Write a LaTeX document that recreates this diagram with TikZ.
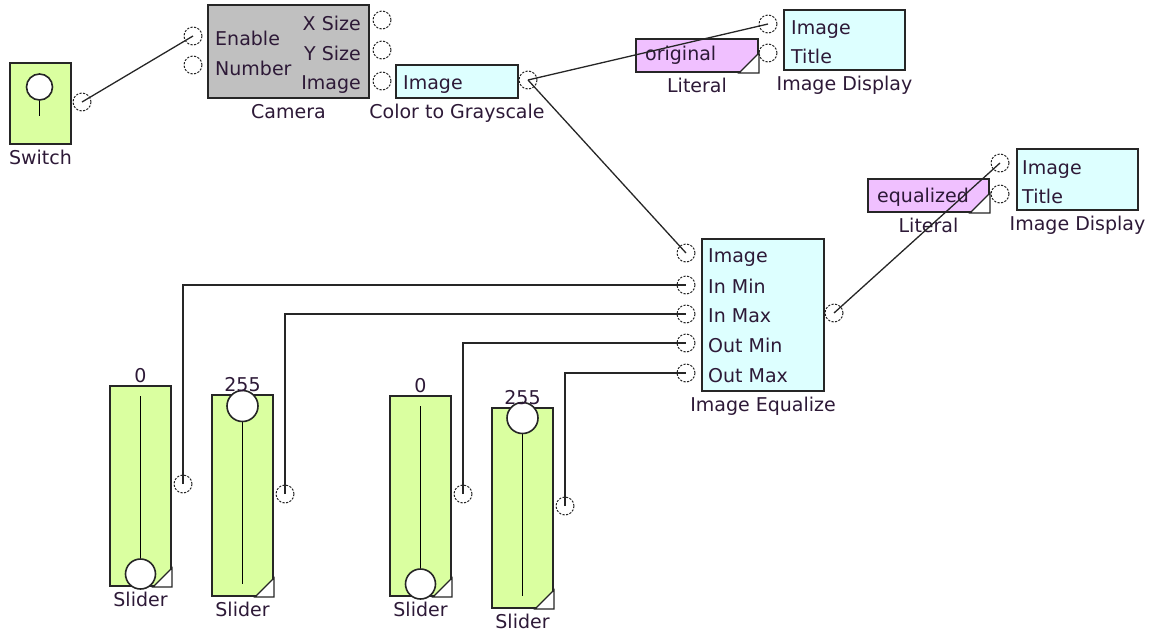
\documentclass[tikz,border=0pt]{standalone}
\usepackage{fontspec}
\setmainfont{DejaVu Sans}
\usetikzlibrary{positioning}
\definecolor{slidegreen}{RGB}{218,255,160}
\definecolor{dispcyan}{RGB}{221,255,255}
\definecolor{litpink}{RGB}{240,192,255}
\definecolor{camgray}{RGB}{192,192,192}
\definecolor{inktext}{RGB}{45,25,55}

\tikzset{
  blk/.style={draw=black!85, line width=2pt, anchor=north west, inner sep=0},
  port/.style={circle, draw=black!85, line width=1pt, dash pattern=on 2.2pt off 1.4pt, minimum size=18pt, inner sep=0},
  knob/.style={circle, draw=black!85, fill=white, line width=1.6pt, inner sep=0, minimum size=#1},
  wire/.style={black!85, line width=1.3pt},
  txt/.style={inner sep=0, text height=13.5pt, text depth=0pt, text=inktext},
  lbl/.style={txt, below=6pt of #1},
  val/.style={txt, above=2.5pt of #1},
  corner/.style={fill=white, draw=black!85, line width=1.3pt},
}

\begin{document}
\begin{tikzpicture}[x=1pt, y=-1pt, font=\fontsize{19}{22}\selectfont]
  \useasboundingbox (0,0) rectangle (1154,633);

  % switch
  \node[blk, fill=slidegreen, minimum width=61pt, minimum height=81pt] (sw) at (9,62) {};
  \node[knob=26pt] (swk) at (39.5,87) {};
  \draw[line width=1.6pt] (swk.south) -- ++(0,15);
  \node[lbl=sw] (swl) {Switch};
  \node[port] (swo) at (82,102) {};

  % camera
  \node[blk, fill=camgray, minimum width=161pt, minimum height=93pt] (cam) at (207,4) {};
  \node[txt, anchor=west] at (215,39) {Enable};
  \node[txt, anchor=west] at (215,69) {Number};
  \node[txt, anchor=east] at (361,23.5) {X Size};
  \node[txt, anchor=east] at (361,53.5) {Y Size};
  \node[txt, anchor=east] at (361,82.5) {Image};
  \node[lbl=cam] (caml) {Camera};
  \node[port] (camen) at (193,36) {};
  \node[port] (camnum) at (193,65) {};
  \node[port] (camx) at (382,20) {};
  \node[port] (camy) at (382,50) {};
  \node[port] (camimg) at (382,81) {};

  % color to grayscale
  \node[blk, fill=dispcyan, minimum width=122pt, minimum height=33pt] (gray) at (395,64) {};
  \node[txt, anchor=west] at (403,82.5) {Image};
  \node[lbl=gray] (grayl) {Color to Grayscale};
  \node[port] (grayo) at (528,80) {};

  % literal "original"
  \node[blk, fill=litpink, minimum width=122pt, minimum height=33pt] (lit1) at (635,38) {};
  \node[txt, anchor=west] at (645,54) {original};
  \filldraw[corner] (lit1.south east) -- ++(-20,0) -- ++(20,-20) -- cycle;
  \node[lbl=lit1] (lit1l) {Literal};

  % image display (top)
  \node[blk, fill=dispcyan, minimum width=121pt, minimum height=60pt] (disp1) at (783,9) {};
  \node[txt, anchor=west] at (791,28) {Image};
  \node[txt, anchor=west] at (791,57) {Title};
  \node[lbl=disp1] (disp1l) {Image Display};
  \node[port] (disp1img) at (768,24) {};
  \node[port] (disp1tit) at (768,53) {};

  % literal "equalized"
  \node[blk, fill=litpink, minimum width=121pt, minimum height=33pt] (lit2) at (867,178) {};
  \node[txt, anchor=west] at (877,196) {equalized};
  \filldraw[corner] (lit2.south east) -- ++(-20,0) -- ++(20,-20) -- cycle;
  \node[lbl=lit2] (lit2l) {Literal};

  % image display (right)
  \node[blk, fill=dispcyan, minimum width=121pt, minimum height=61pt] (disp2) at (1016,148) {};
  \node[txt, anchor=west] at (1022,168) {Image};
  \node[txt, anchor=west] at (1022,197) {Title};
  \node[lbl=disp2] (disp2l) {Image Display};
  \node[port] (disp2img) at (1000,163) {};
  \node[port] (disp2tit) at (1000,194) {};

  % image equalize
  \node[blk, fill=dispcyan, minimum width=122pt, minimum height=152pt] (eq) at (701,238) {};
  \node[txt, anchor=west] at (708,256) {Image};
  \node[txt, anchor=west] at (708,287) {In Min};
  \node[txt, anchor=west] at (708,316) {In Max};
  \node[txt, anchor=west] at (708,346) {Out Min};
  \node[txt, anchor=west] at (708,376) {Out Max};
  \node[lbl=eq] (eql) {Image Equalize};
  \node[port] (eqimg) at (686,253) {};
  \node[port] (eqinmin) at (686,285) {};
  \node[port] (eqinmax) at (686,314) {};
  \node[port] (eqoutmin) at (686,343) {};
  \node[port] (eqoutmax) at (686,373) {};
  \node[port] (eqo) at (834,313) {};

  % sliders
  \node[blk, fill=slidegreen, minimum width=61pt, minimum height=200pt] (s1) at (109,385) {};
  \node[blk, fill=slidegreen, minimum width=61pt, minimum height=201pt] (s2) at (211,394) {};
  \node[blk, fill=slidegreen, minimum width=61pt, minimum height=200pt] (s3) at (389,395) {};
  \node[blk, fill=slidegreen, minimum width=61pt, minimum height=200pt] (s4) at (491,407) {};
  \foreach \s in {s1,s2,s3,s4} {
    \filldraw[corner] (\s.south east) -- ++(-19,0) -- ++(19,-19) -- cycle;
    \draw[line width=1.6pt] ([yshift=-11pt]\s.north) -- ([yshift=13pt]\s.south);
    \node[lbl=\s] {Slider};
  }
  \node[knob=30pt] (s1k) at ([yshift=13pt]s1.south) {};
  \node[knob=31pt] (s2k) at ([yshift=-12pt]s2.north) {};
  \node[knob=30pt] (s3k) at ([yshift=13pt]s3.south) {};
  \node[knob=31pt] (s4k) at ([yshift=-11pt]s4.north) {};
  \node[val=s1] {0};
  \node[val=s2] {255};
  \node[val=s3] {0};
  \node[val=s4] {255};
  \node[port] (s1o) at (183,484) {};
  \node[port] (s2o) at (285,494) {};
  \node[port] (s3o) at (463,494) {};
  \node[port] (s4o) at (565,506) {};

  % wires
  \draw[wire] (swo.center) -- (camen.center);
  \draw[wire] (grayo.center) -- (disp1img.center);
  \draw[wire] (grayo.center) -- (eqimg.center);
  \draw[wire] (eqo.center) -- (disp2img.center);
  \draw[wire] (s1o.center) |- (eqinmin.center);
  \draw[wire] (s2o.center) |- (eqinmax.center);
  \draw[wire] (s3o.center) |- (eqoutmin.center);
  \draw[wire] (s4o.center) |- (eqoutmax.center);
\end{tikzpicture}
\end{document}
